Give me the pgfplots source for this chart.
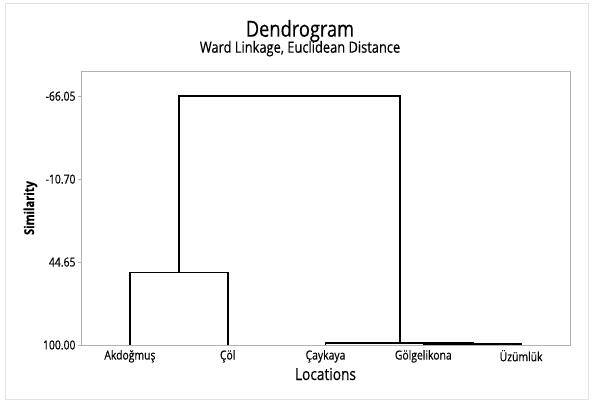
\documentclass[border=0pt]{standalone}
\usepackage{fontspec}
\setmainfont{Open Sans}[FakeStretch=0.83, FakeBold=0.35]
\usepackage{pgfplots}
\pgfplotsset{compat=1.18}
\begin{document}
\begin{tikzpicture}[x=1pt,y=1pt]
\useasboundingbox (-81,-56) rectangle (512,345);
\draw[gray!22, line width=1pt] (-75,-54) rectangle (507,341);
\begin{axis}[
  at={(0pt,0pt)}, anchor=south west,
  scale only axis, width=489pt, height=274pt,
  xmin=0.5, xmax=5.5, ymin=-82.9, ymax=100,
  y dir=reverse,
  axis line style={draw=gray!60, line width=0.9pt},
  ytick={-66.05,-10.70,44.65,100},
  yticklabels={-66.05,-10.70,44.65,100.00},
  xtick={1,2,3,4,5},
  xticklabels={Akdoğmuş,Çöl,Çaykaya,Gölgelikona,Üzümlük},
  ytick pos=left, xtick pos=left,
  x tick style={draw=none},
  y tick style={draw=gray!60, line width=0.8pt},
  tick align=outside, major tick length=3pt,
  yticklabel style={font=\fontsize{12.5}{13}\selectfont, xshift=1pt},
  xticklabel style={font=\fontsize{12.5}{13}\selectfont, yshift=1.5pt},
  clip=false,
]
\addplot[black, line width=1.6pt] coordinates {(1,100) (1,51.5) (2,51.5) (2,100)};
\addplot[black, line width=1.6pt] coordinates {(4,100) (4,99.3) (5,99.3) (5,100)};
\addplot[black, line width=1.6pt] coordinates {(3,100) (3,98.5) (4.51,98.5) (4.51,99.3)};
\addplot[black, line width=1.6pt] coordinates {(1.5,51.5) (1.5,-66.05) (3.76,-66.05) (3.76,98.5)};
\end{axis}
\node[anchor=base, font=\fontsize{22}{23}\selectfont] at (219,308.3) {Dendrogram};
\node[anchor=base, font=\fontsize{15.5}{16}\selectfont] at (219,292.3) {Ward Linkage, Euclidean Distance};
\node[anchor=base, font=\fontsize{16.5}{17}\selectfont] at (244.5,-35) {Locations};
\node[rotate=90, font=\bfseries\fontsize{13.5}{14}\selectfont] at (-50.5,137) {Similarity};
\end{tikzpicture}
\end{document}
